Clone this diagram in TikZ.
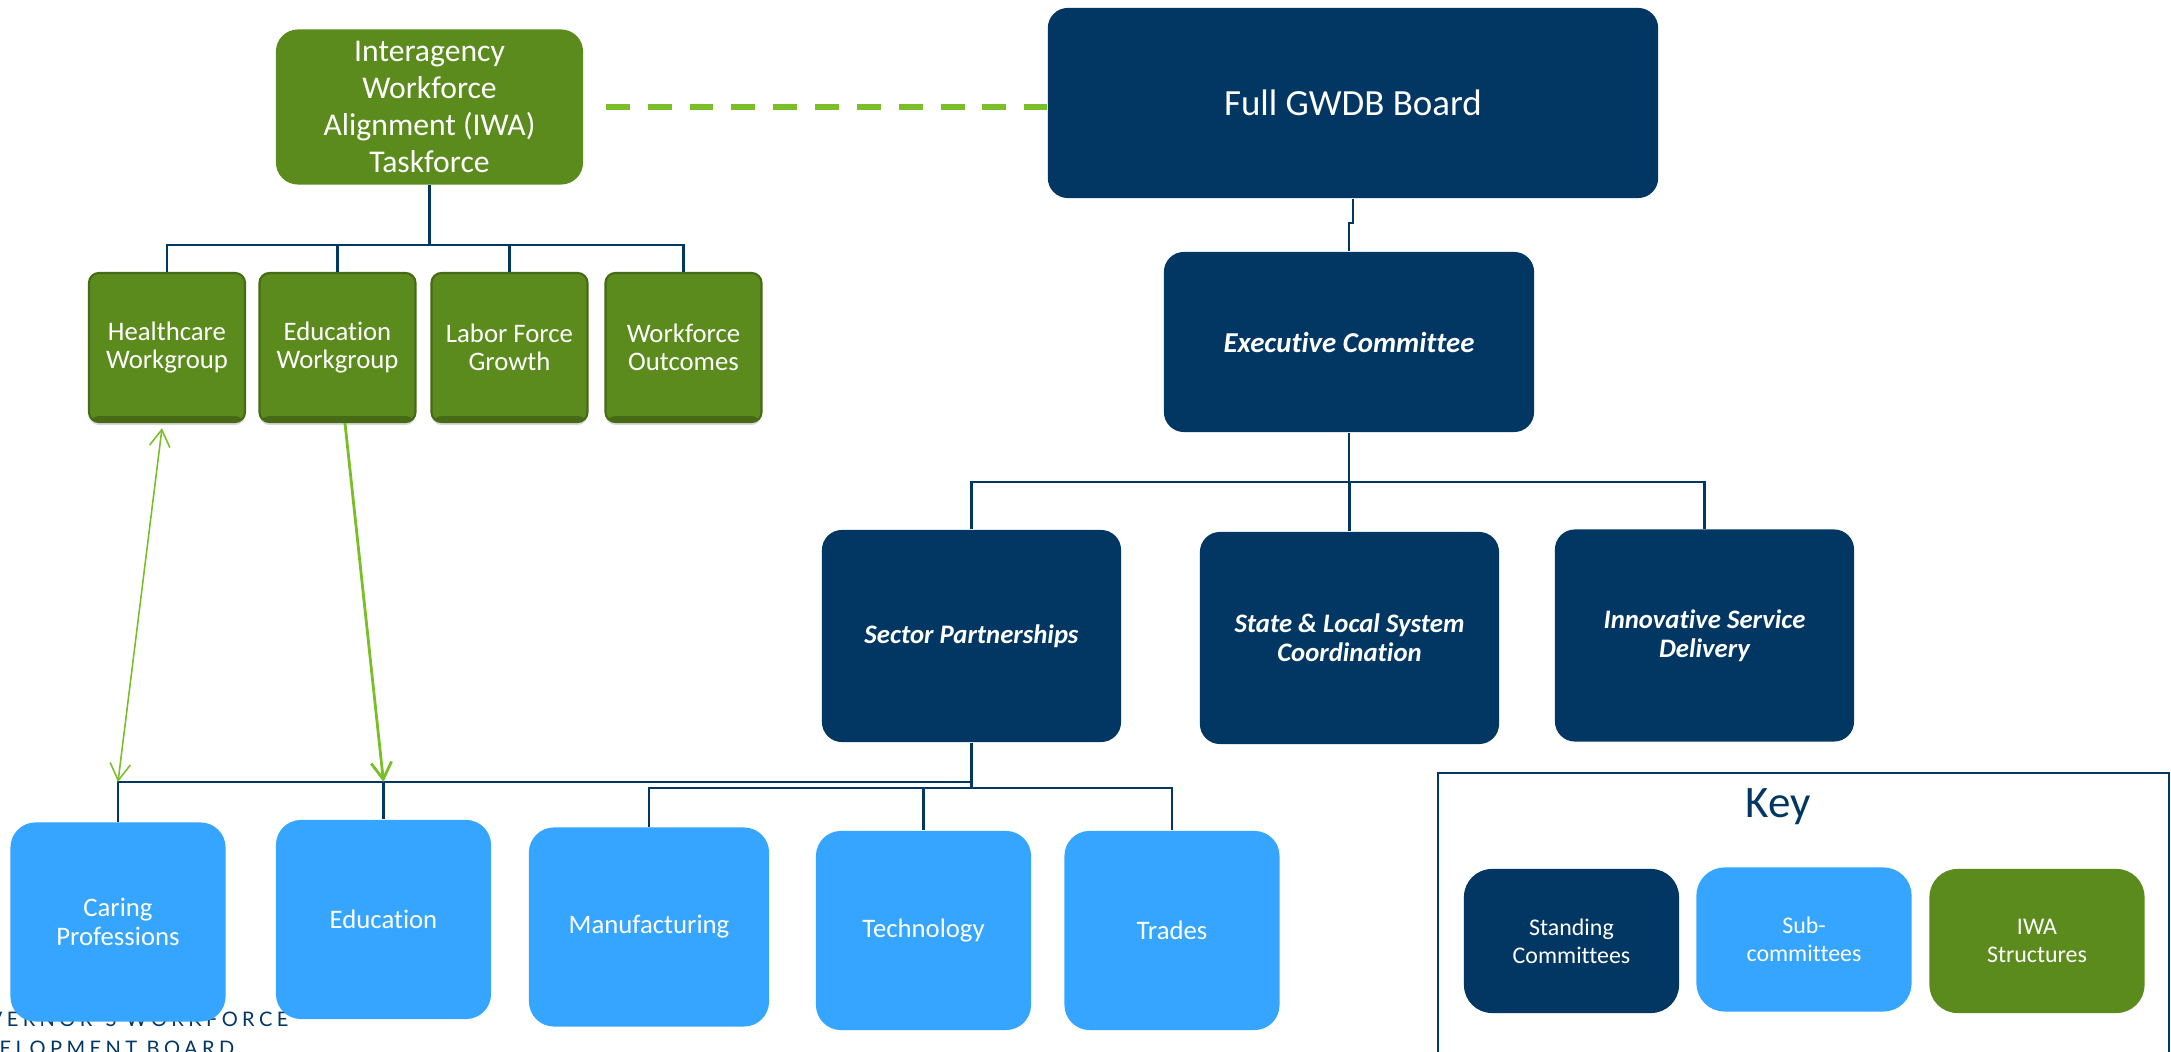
\documentclass[tikz,border=0pt]{standalone}
\usepackage{fontspec}
\setmainfont{Carlito}[Ligatures=CommonOff]
\newfontfamily\footfont[LetterSpace=22]{Lato}
\usetikzlibrary{arrows.meta,shadows}

\definecolor{gwnavy}{RGB}{2,55,99}
\definecolor{gwblue}{RGB}{53,165,255}
\definecolor{gwgreen}{RGB}{92,139,29}
\definecolor{gwdark}{RGB}{70,106,22}
\definecolor{gwlime}{RGB}{122,190,40}

\tikzset{
  barb/.tip={Straight Barb[length=4.8pt,width=5.8pt]},
  board/.style={fill=gwnavy, text=white, rounded corners=0.2cm, align=center, inner sep=0pt},
  cmte/.style={board, minimum width=2.99cm, minimum height=2.12cm,
    font=\fontsize{7.6}{8.3}\selectfont\bfseries\itshape},
  subcom/.style={fill=gwblue, text=white, rounded corners=0.25cm, align=center, inner sep=0pt,
    minimum width=2.15cm, minimum height=1.99cm, font=\fontsize{7.6}{8.3}\selectfont},
  iwabox/.style={fill=gwgreen, text=white, rounded corners=0.22cm, align=center, inner sep=0pt},
  wg/.style={fill=gwgreen, draw=gwdark, line width=0.6pt, text=white, rounded corners=0.1cm,
    align=center, inner sep=0pt, minimum width=1.56cm, minimum height=1.49cm,
    font=\fontsize{7.6}{8}\selectfont,
    drop shadow={shadow xshift=0pt, shadow yshift=-0.03cm, opacity=0.3},
    path picture={\fill[gwdark] ([yshift=0.06cm]path picture bounding box.south west)
      rectangle (path picture bounding box.south east);}},
  keybox/.style={text=white, rounded corners=0.28cm, align=center, inner sep=0pt,
    minimum width=2.15cm, minimum height=1.44cm, font=\fontsize{6.8}{8}\selectfont},
  conn/.style={draw=gwnavy, line width=0.6pt},
  link/.style={draw=gwlime, line width=0.45pt},
  dashlink/.style={draw=gwlime, line width=1.7pt, dash pattern=on 6.8pt off 5.1pt}
}

\begin{document}
\begin{tikzpicture}[x=0.01cm, y=-0.01cm]
  \useasboundingbox (0,0) rectangle (2171,1052);
  \clip (0,0) rectangle (2171,1052);

  % footer, mostly hidden behind the boxes
  \node[anchor=base east, inner sep=0pt, text=gwnavy, font=\footfont\fontsize{5.7}{6}\selectfont]
    (footA) at (289,1027) {GOVERNOR’S WORKFORCE};
  \node[anchor=base east, inner sep=0pt, text=gwnavy, font=\footfont\fontsize{5.7}{6}\selectfont]
    (footB) at (235,1056) {DEVELOPMENT BOARD};

  % board and committees
  \node[board, minimum width=6.10cm, minimum height=1.90cm, font=\fontsize{10.5}{12}\selectfont]
    (gwdb) at (1353,103) {Full GWDB Board};
  \node[board, minimum width=3.70cm, minimum height=1.80cm,
    font=\fontsize{8.2}{9}\selectfont\bfseries\itshape] (exec) at (1349,342) {Executive Committee};
  \node[cmte] (sector) at (971.5,636) {Sector Partnerships};
  \node[cmte] (state) at (1349.5,638) {State \& Local System\\Coordination};
  \node[cmte] (innov) at (1704.5,635.5) {Innovative Service\\Delivery};

  % IWA taskforce and workgroups
  \node[iwabox, minimum width=3.07cm, minimum height=1.55cm, font=\fontsize{9}{10.5}\selectfont]
    (iwa) at (429.5,107) {Interagency\\Workforce\\Alignment (IWA)\\Taskforce};
  \node[wg] (hc) at (167,347.5) {Healthcare\\Workgroup};
  \node[wg] (edw) at (337.5,347.5) {Education\\Workgroup};
  \node[wg] (lab) at (509.5,347.5) {Labor Force\\Growth};
  \node[wg] (out) at (683.5,347.5) {Workforce\\Outcomes};

  % subcommittees
  \node[subcom] (caring) at (118,922) {Caring\\Professions};
  \node[subcom] (educ) at (383.5,919.5) {Education};
  \node[subcom, minimum width=2.40cm] (manu) at (649,927) {Manufacturing};
  \node[subcom] (tech) at (923.5,930.5) {Technology};
  \node[subcom] (trades) at (1172,930.5) {Trades};

  % connectors
  \foreach \n in {hc,edw,lab,out}
    \draw[conn] (iwa.south) -- ++(0,60) -| (\n.north);
  \draw[conn] (gwdb.south) -- ++(0,24) -| (exec.north);
  \foreach \n in {sector,state,innov}
    \draw[conn] (exec.south) -- ++(0,49) -| (\n.north);
  \coordinate (lbus) at (971.5,782);
  \foreach \n in {caring,educ}
    \draw[conn] (sector.south) -- (lbus) -| (\n.north);
  \foreach \n in {manu,tech,trades}
    \draw[conn] (sector.south) -- ++(0,45) -| (\n.north);

  \draw[dashlink] ([xshift=0.22cm]iwa.east) -- (gwdb.west |- iwa.east);
  \draw[link, barb-barb] ([shift={(-5,5)}]hc.south) -- (caring.north |- lbus);
  \draw[link, line width=0.8pt, -barb] ([shift={(7.5,0)}]edw.south) -- (educ.north |- lbus);

  % key
  \draw[gwnavy, line width=0.7pt] (1438,773) rectangle (2169,1100);
  \node[anchor=base, inner sep=0pt, text=gwnavy, font=\fontsize{12.8}{14}\selectfont]
    (keytitle) at (1778.5,818) {Key};
  \node[keybox, fill=gwnavy] (keystand) at (1571.5,941) {Standing\\Committees};
  \node[keybox, fill=gwblue] (keysub) at (1804,939.5) {Sub-\\committees};
  \node[keybox, fill=gwgreen] (keyiwa) at (2037,941) {IWA\\Structures};
\end{tikzpicture}
\end{document}
